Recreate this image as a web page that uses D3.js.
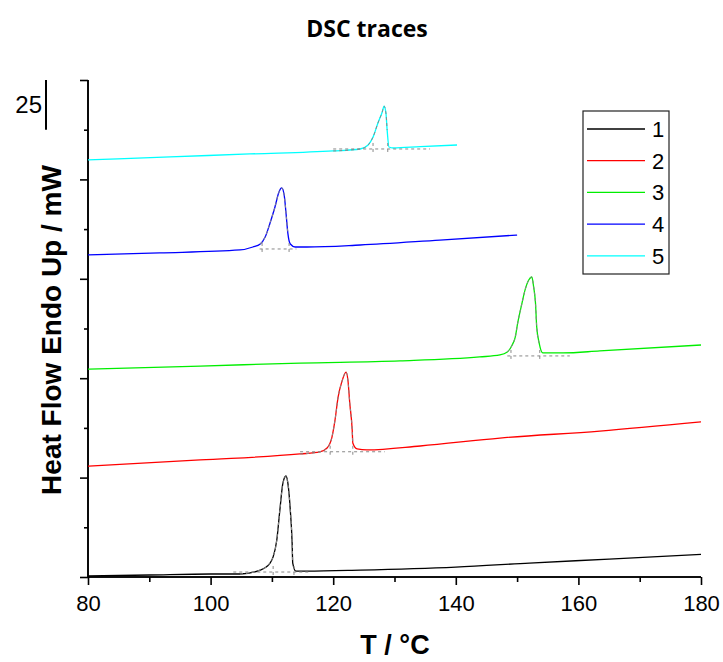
<!DOCTYPE html>
<html>
<head>
<meta charset="utf-8">
<script src="https://cdn.jsdelivr.net/npm/d3@7"></script>
<style>
  body { margin: 0; background: #fff; }
  svg { display: block; font-family: Arial, "Liberation Sans", sans-serif; }
</style>
</head>
<body>
<div id="chart"></div>
<script>
// ---- data: [T (°C), heat flow (scale units)] ----
var trace1 = [[80,0.5],[90,1.0],[100,1.5],[104.8,1.5],[108.1,3.5],[109.7,7.0],[110.2,10.1],[110.8,18.6],[111.3,33.7],[111.8,47.3],[112.3,50.8],[112.6,47.3],[113.0,33.7],[113.3,17.1],[113.4,7.0],[113.9,3.0],[115.7,3.0],[124.4,3.5],[140,5.0],[152,7.0],[165,9.0],[180,11.4]];
var trace2 = [[80,55.8],[98.3,58.9],[114.6,61.9],[117.8,62.9],[119.0,64.9],[119.8,70.4],[120.3,79.0],[120.8,90.5],[121.4,98.1],[122.1,103.1],[122.4,99.1],[122.7,87.5],[123.1,73.9],[123.2,67.4],[123.9,64.4],[125.5,63.9],[134.2,65.9],[147.2,69.9],[163.5,73.4],[180,78.0]];
var trace3 = [[80,104.6],[98.3,106.1],[114.6,107.6],[130.9,108.7],[143.9,110.7],[147.2,111.7],[148.4,113.2],[149.2,116.7],[149.7,120.7],[150.1,127.8],[150.8,137.8],[151.3,144.4],[151.9,149.4],[152.4,150.9],[152.7,145.9],[153.0,137.8],[153.2,125.8],[153.6,117.7],[154.2,112.7],[157.5,112.7],[163.5,113.7],[180,116.7]];
var trace4 = [[80,162.0],[91.7,163.0],[104.8,164.5],[106.9,166.0],[108.1,167.5],[108.9,171.0],[109.7,178.1],[110.5,186.1],[111.1,193.2],[111.6,195.7],[112.0,192.2],[112.3,183.1],[112.6,173.0],[113.0,167.5],[113.8,166.0],[115.7,166.0],[124.4,167.0],[137.4,169.5],[150,172.0]];
var trace5 = [[80,209.8],[93.4,211.3],[106.4,212.8],[120.0,214.3],[124.4,215.3],[125.7,217.3],[126.5,221.3],[127.3,228.4],[128.0,233.9],[128.3,236.9],[128.6,233.4],[128.8,224.8],[129.1,216.3],[129.8,215.8],[134.2,216.5],[140.2,217.3]];

var names  = ['1','2','3','4','5'];
var colors = ['#000000','#ff0000','#00ee00','#0000ff','#00ffff'];

// integration baselines (dashed grey)
var baseFrom = [103.7, 114.6, 148.4, 108.0, 120.0];
var baseTo   = [116.0, 128.4, 158.6, 114.0, 135.8];
var baseAt   = [2.5, 63.0, 111.2, 165.0, 215.3];
var peakLo   = [110.2, 119.5, 149.0, 108.4, 126.5];
var peakHi   = [113.6, 123.2, 153.7, 112.8, 128.9];

var xMajor = [80,100,120,140,160,180];
var xMinor = [90,110,130,150,170];
var yMajor = [0,50,100,150,200,250];
var yMinor = [25,75,125,175,225];
var scaleBar = 25;

var traces = [trace1, trace2, trace3, trace4, trace5];

// -------------------------------------------------------------
var W = 723, H = 662;
var svg = d3.select('#chart').append('svg').attr('width', W).attr('height', H);

var x = d3.scaleLinear().domain([80,180]).range([88,701]);
var y = d3.scaleLinear().domain([0,250]).range([577,80]);

svg.append('text')
  .attr('x', 367).attr('y', 37)
  .attr('text-anchor','middle')
  .style('font-family','"Open Sans", sans-serif')
  .style('font-weight','bold').style('font-size','23px')
  .text('DSC traces');

// axes
var gx = svg.append('g').attr('transform','translate(0,577)');
gx.call(d3.axisBottom(x).tickValues(xMajor).tickSize(8).tickPadding(10).tickFormat(d3.format('d')));
gx.append('g').call(d3.axisBottom(x).tickValues(xMinor).tickSize(5).tickFormat(''));
gx.selectAll('.domain').attr('d','M88,0H701');

var gy = svg.append('g').attr('transform','translate(88,0)');
gy.call(d3.axisLeft(y).tickValues(yMajor).tickSize(8).tickFormat(''));
gy.append('g').call(d3.axisLeft(y).tickValues(yMinor).tickSize(4).tickFormat(''));
gy.selectAll('.domain').attr('d','M0,80V577');

svg.selectAll('.domain, .tick line').attr('stroke','#000').attr('stroke-width',1.6);
gx.selectAll('.tick text').attr('fill','#000')
  .style('font-size','22px').style('font-family','Arial, "Liberation Sans", sans-serif');

// scale bar
svg.append('line')
  .attr('x1',46).attr('x2',46)
  .attr('y1', y(250)).attr('y2', y(250-scaleBar))
  .attr('stroke','#000').attr('stroke-width',2);
svg.append('text')
  .attr('x',42).attr('y',113)
  .attr('text-anchor','end')
  .style('font-size','24px')
  .text(scaleBar);

// axis titles
svg.append('text')
  .attr('x',395).attr('y',654)
  .attr('text-anchor','middle')
  .style('font-weight','bold').style('font-size','27px')
  .text('T / °C');
svg.append('text')
  .attr('transform','translate(61,330) rotate(-90)')
  .attr('text-anchor','middle')
  .style('font-weight','bold').style('font-size','28px')
  .text('Heat Flow Endo Up / mW');

// traces
var line = d3.line()
  .x(function(d){ return x(d[0]); })
  .y(function(d){ return y(d[1]); })
  .curve(d3.curveMonotoneX);

traces.forEach(function(t, i){
  svg.append('path')
    .attr('d', line(t))
    .attr('fill','none')
    .attr('stroke', colors[i])
    .attr('stroke-width',1.3);
});

// integration marks
traces.forEach(function(t, i){
  var g = svg.append('g')
    .attr('stroke','#888').attr('stroke-width',1)
    .attr('stroke-dasharray','3,3').attr('fill','none');
  g.append('line')
    .attr('x1', x(baseFrom[i])).attr('x2', x(baseTo[i]))
    .attr('y1', y(baseAt[i])).attr('y2', y(baseAt[i]));
  [peakLo[i], peakHi[i]].forEach(function(p){
    g.append('line')
      .attr('x1', x(p)).attr('x2', x(p))
      .attr('y1', y(baseAt[i]) - 6).attr('y2', y(baseAt[i]) + 5);
  });
  var seg = t.filter(function(d){ return d[0] >= baseFrom[i] && d[0] <= peakHi[i]; });
  g.append('path').attr('d', line(seg));
});

// legend
var lg = svg.append('g').attr('transform','translate(583,111)');
lg.append('rect')
  .attr('width',86).attr('height',163)
  .attr('fill','#fff').attr('stroke','#222').attr('stroke-width',1.2);
names.forEach(function(n, i){
  var yy = 18 + i*31.7;
  lg.append('line')
    .attr('x1',4).attr('x2',62).attr('y1',yy).attr('y2',yy)
    .attr('stroke', colors[i]).attr('stroke-width',1.3);
  lg.append('text')
    .attr('x',69).attr('y', yy + 8)
    .style('font-size','22px')
    .text(n);
});
</script>
</body>
</html>
